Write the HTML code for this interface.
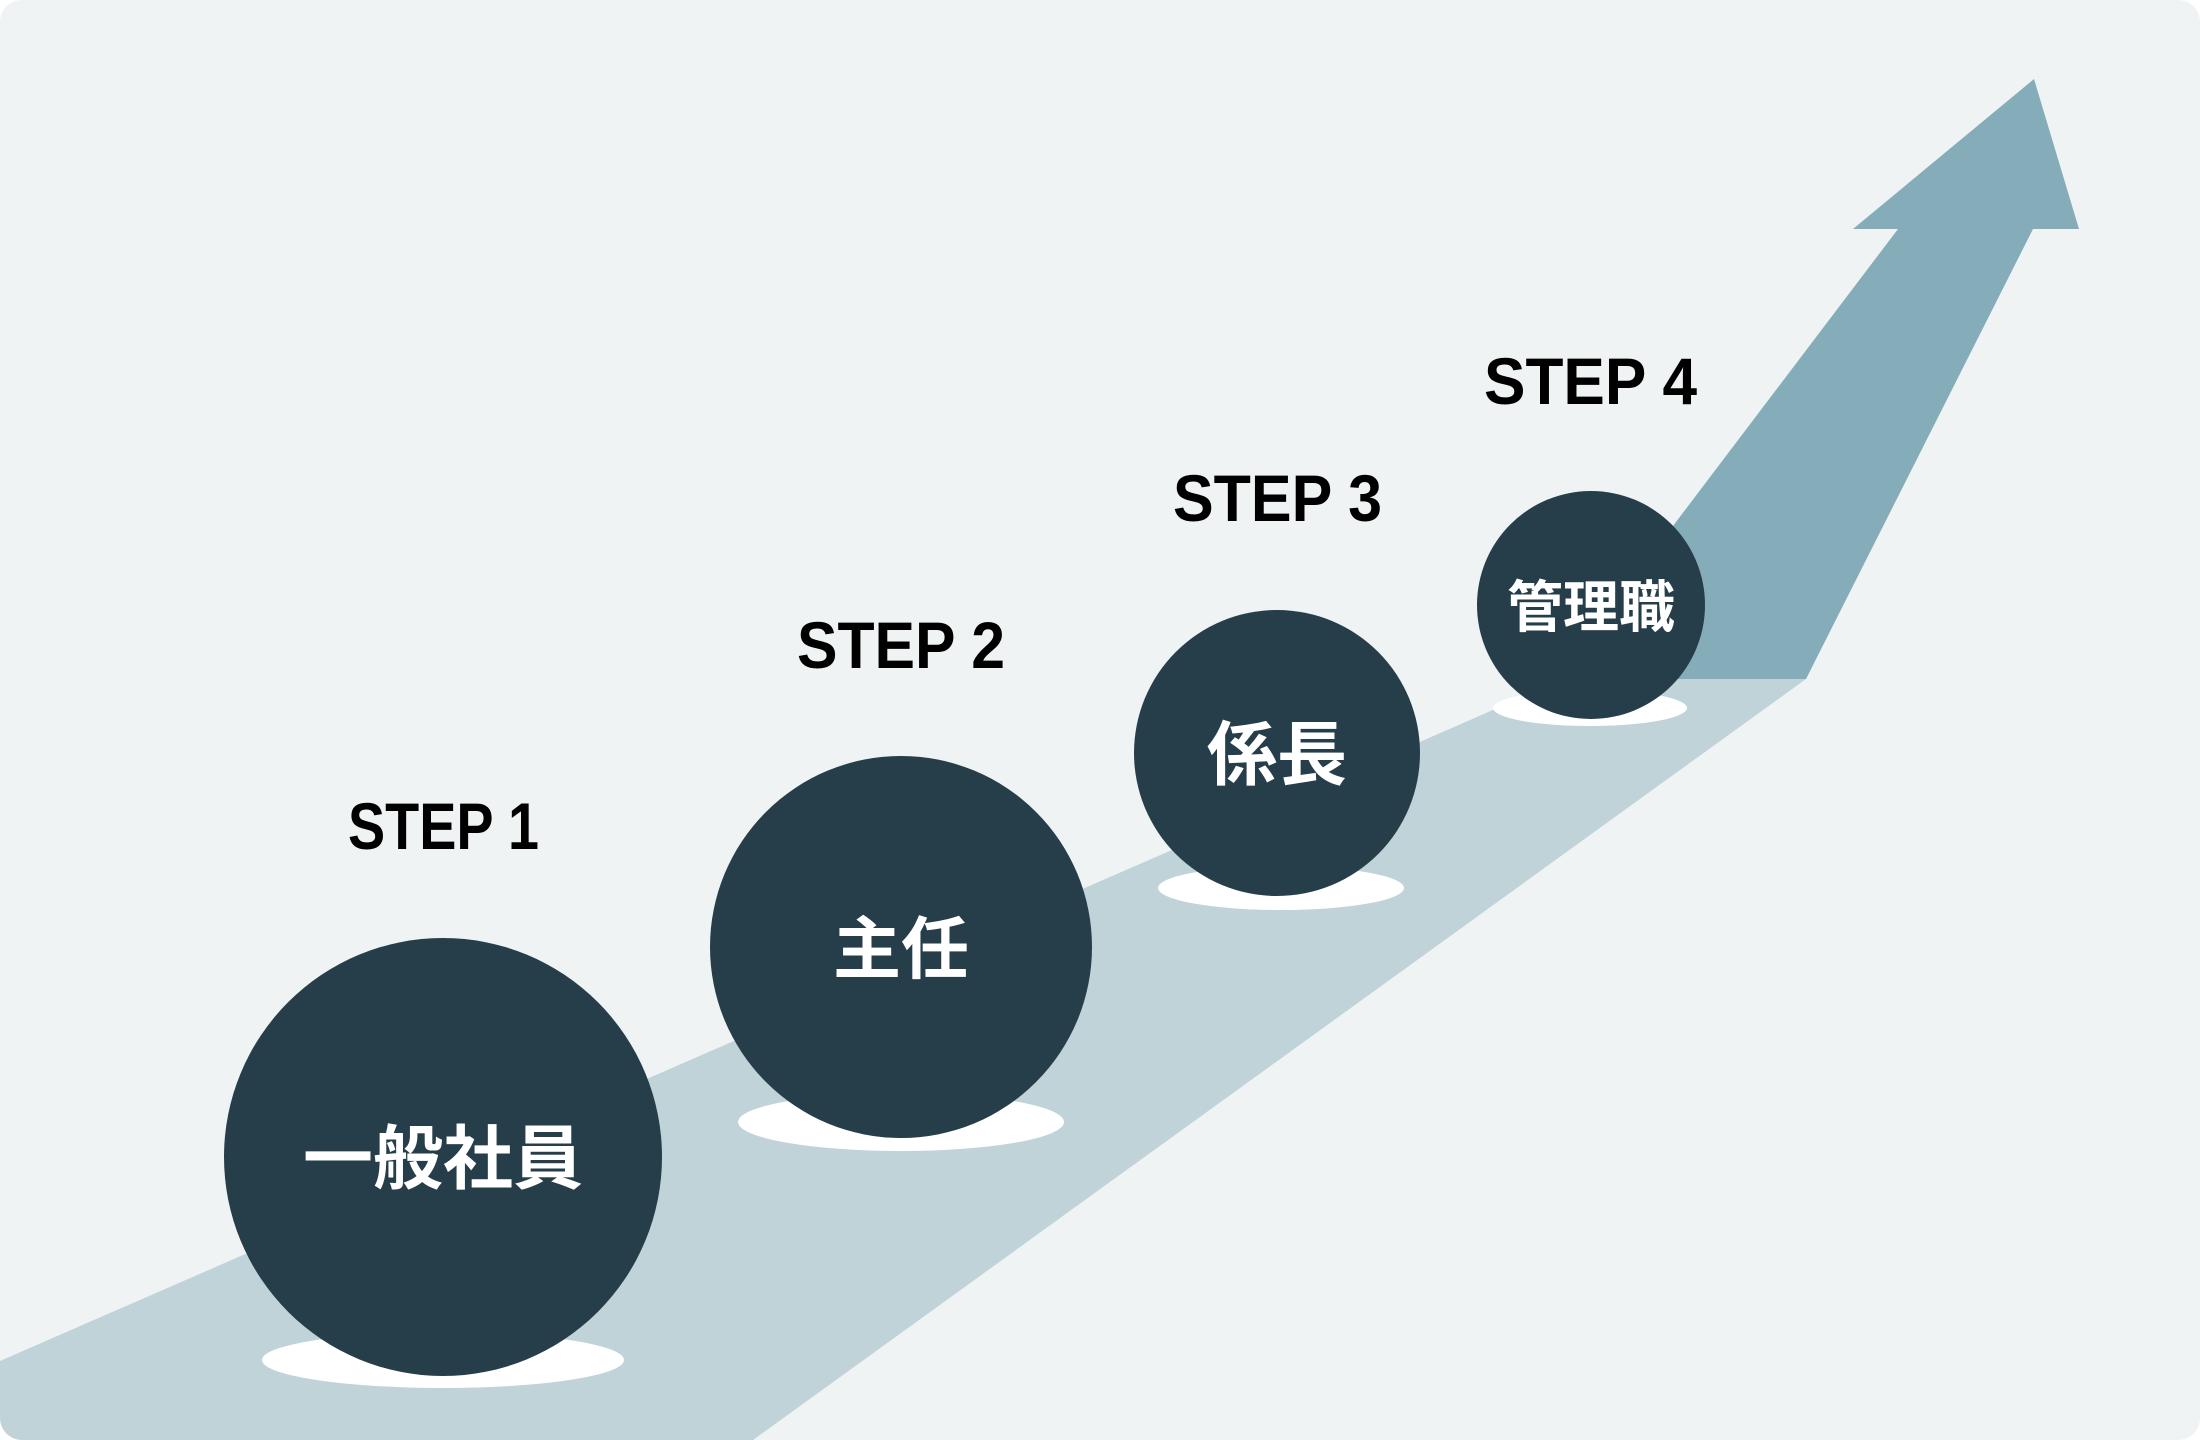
<!DOCTYPE html>
<html><head><meta charset="utf-8"><style>
html,body{margin:0;padding:0;background:#fff;}
svg{display:block;}
</style></head><body>
<svg width="2200" height="1440" viewBox="0 0 2200 1440" xmlns="http://www.w3.org/2000/svg">
<defs><clipPath id="c"><rect x="0" y="0" width="2200" height="1440" rx="22" ry="22"/></clipPath></defs>
<g clip-path="url(#c)">
<rect x="0" y="0" width="2200" height="1440" fill="#eff3f4"/>
<polygon points="0,1361 1564,679 1806,679 753,1440 0,1440" fill="#c0d3d9"/>
<polygon points="1557,679 1898,229 1853,229 2034,79 2079,229 2033,229 1806,679" fill="#84acb9"/>
</g>
<g fill="#ffffff">
<ellipse cx="443" cy="1360" rx="181" ry="28"/>
<ellipse cx="901" cy="1122" rx="163" ry="29"/>
<ellipse cx="1281" cy="888" rx="123" ry="22"/>
<ellipse cx="1590" cy="708" rx="97" ry="18"/>
</g>
<g fill="#263d4a">
<circle cx="443" cy="1157" r="219"/>
<circle cx="901" cy="947" r="191"/>
<circle cx="1277" cy="753" r="143"/>
<circle cx="1591" cy="605" r="114"/>
</g>
<g font-family="'Liberation Sans', sans-serif" font-size="66" fill="#000" font-weight="bold">
<text x="348" y="849" textLength="191" lengthAdjust="spacingAndGlyphs">STEP 1</text>
<text x="797" y="668" textLength="208" lengthAdjust="spacingAndGlyphs">STEP 2</text>
<text x="1173" y="521" textLength="209" lengthAdjust="spacingAndGlyphs">STEP 3</text>
<text x="1484" y="404" textLength="213" lengthAdjust="spacingAndGlyphs">STEP 4</text>
</g>
<g font-family="'Liberation Sans','Noto Sans CJK JP',sans-serif" font-weight="bold" fill="#fff" text-anchor="middle">
<text x="443" y="1183" font-size="70">一般社員</text>
<text x="901" y="973" font-size="68">主任</text>
<text x="1277" y="779" font-size="70">係長</text>
<text x="1591" y="627" font-size="56">管理職</text>
</g>
</svg>
</body></html>
